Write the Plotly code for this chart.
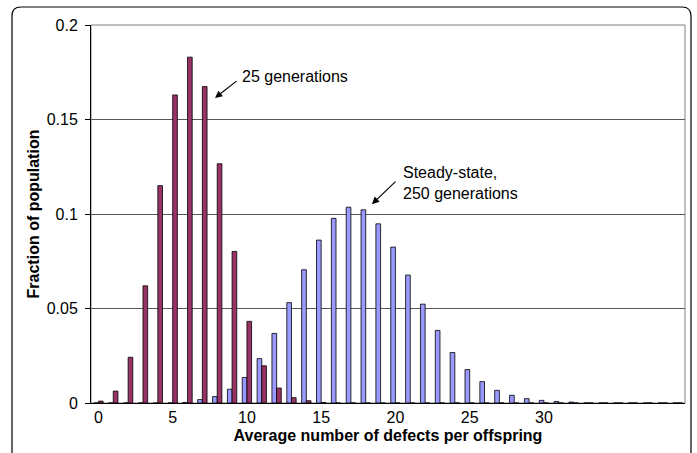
import plotly.graph_objects as go

categories = list(range(40))
tick_values = [0, 5, 10, 15, 20, 25, 30]
tick_labels = ["0", "5", "10", "15", "20", "25", "30"]
y_tick_values = [0, 0.05, 0.1, 0.15, 0.2]
y_tick_labels = ["0", "0.05", "0.1", "0.15", "0.2"]

gen25 = [0.001, 0.0063, 0.0242, 0.062, 0.115, 0.163, 0.183, 0.1674, 0.1266, 0.0802,
         0.0432, 0.0197, 0.0079, 0.0028, 0.0012, 0.0003, 0, 0, 0, 0,
         0, 0, 0, 0, 0, 0, 0, 0, 0, 0,
         0, 0, 0, 0, 0, 0, 0, 0, 0, 0]
steady = [0, 0, 0, 0, 0, 0, 0.0003, 0.0018, 0.0034, 0.0073,
          0.0135, 0.0235, 0.0368, 0.0531, 0.0705, 0.0862, 0.0977, 0.1036, 0.1022, 0.0948,
          0.0825, 0.0677, 0.0523, 0.0384, 0.0267, 0.0177, 0.0113, 0.0067, 0.0041, 0.0023,
          0.0014, 0.0008, 0.0005, 0, 0, 0, 0, 0, 0, 0]

W, H = 697, 453
L, R, T, B = 91, 12, 25, 50
pw, ph = W - L - R, H - T - B

def px(x):
    return (x - L) / pw

def py(y):
    return (H - B - y) / ph

FONT = "Arial, Liberation Sans, sans-serif"
FS = 16

fig = go.Figure()
fig.add_trace(go.Bar(x=categories, y=steady, name="Steady-state, 250 generations",
                     marker=dict(color="#9999FF", line=dict(color="#000000", width=0.8))))
fig.add_trace(go.Bar(x=categories, y=gen25, name="25 generations",
                     marker=dict(color="#993366", line=dict(color="#000000", width=0.8))))

# outer rounded border
x0, x1, y0, y1, r = 12, 691, 7, 460, 9
path = (f"M {px(x0+r)},{py(y0)} L {px(x1-r)},{py(y0)} Q {px(x1)},{py(y0)} {px(x1)},{py(y0+r)} "
        f"L {px(x1)},{py(y1-r)} Q {px(x1)},{py(y1)} {px(x1-r)},{py(y1)} "
        f"L {px(x0+r)},{py(y1)} Q {px(x0)},{py(y1)} {px(x0)},{py(y1-r)} "
        f"L {px(x0)},{py(y0+r)} Q {px(x0)},{py(y0)} {px(x0+r)},{py(y0)} Z")
fig.add_shape(type="path", path=path, xref="paper", yref="paper",
              line=dict(color="#000000", width=1.2), layer="below")
# plot area border (gray)
fig.add_shape(type="rect", x0=0, x1=1, y0=0, y1=1, xref="paper", yref="paper",
              line=dict(color="#808080", width=1), layer="below")

fig.add_annotation(x=7.85, y=0.1614, ax=23, ay=-18, text="", showarrow=True,
                   arrowhead=2, arrowsize=1.2, arrowwidth=1.2, arrowcolor="#000000")
fig.add_annotation(x=18.42, y=0.1052, ax=25, ay=-24, text="", showarrow=True,
                   arrowhead=2, arrowsize=1.2, arrowwidth=1.2, arrowcolor="#000000")
fig.add_annotation(x=9.55, y=0.1725, text="25 generations", showarrow=False,
                   xanchor="left", yanchor="middle", font=dict(size=FS, color="#000000", family=FONT))
fig.add_annotation(x=20.35, y=0.1165, text="Steady-state,<br>250 generations", showarrow=False,
                   xanchor="left", yanchor="middle", align="left",
                   font=dict(size=FS, color="#000000", family=FONT))

fig.update_layout(
    width=W, height=H,
    margin=dict(l=L, r=R, t=T, b=B),
    paper_bgcolor="#FFFFFF", plot_bgcolor="#FFFFFF",
    barmode="group", bargap=0.37, bargroupgap=0,
    showlegend=False,
    font=dict(family=FONT, size=FS, color="#000000"),
    xaxis=dict(range=[-0.5, 39.5], tickvals=tick_values, ticktext=tick_labels,
               showgrid=False, zeroline=False, showline=True, linecolor="#000000", linewidth=1,
               ticks="", tickfont=dict(size=FS),
               title=dict(text="<b>Average number of defects per offspring</b>", font=dict(size=FS), standoff=4)),
    yaxis=dict(range=[0, 0.2], tickvals=y_tick_values, ticktext=y_tick_labels,
               showgrid=True, gridcolor="#595959", gridwidth=1, zeroline=False,
               showline=True, linecolor="#000000", linewidth=1,
               ticks="outside", ticklen=5, tickcolor="#000000", tickfont=dict(size=FS),
               ticklabelstandoff=4,
               title=dict(text="<b>Fraction of population</b>", font=dict(size=FS), standoff=3)),
)

fig.write_html("out.html", config={"displayModeBar": False},
               post_script="document.body.style.margin='0';document.body.style.overflow='hidden';")
